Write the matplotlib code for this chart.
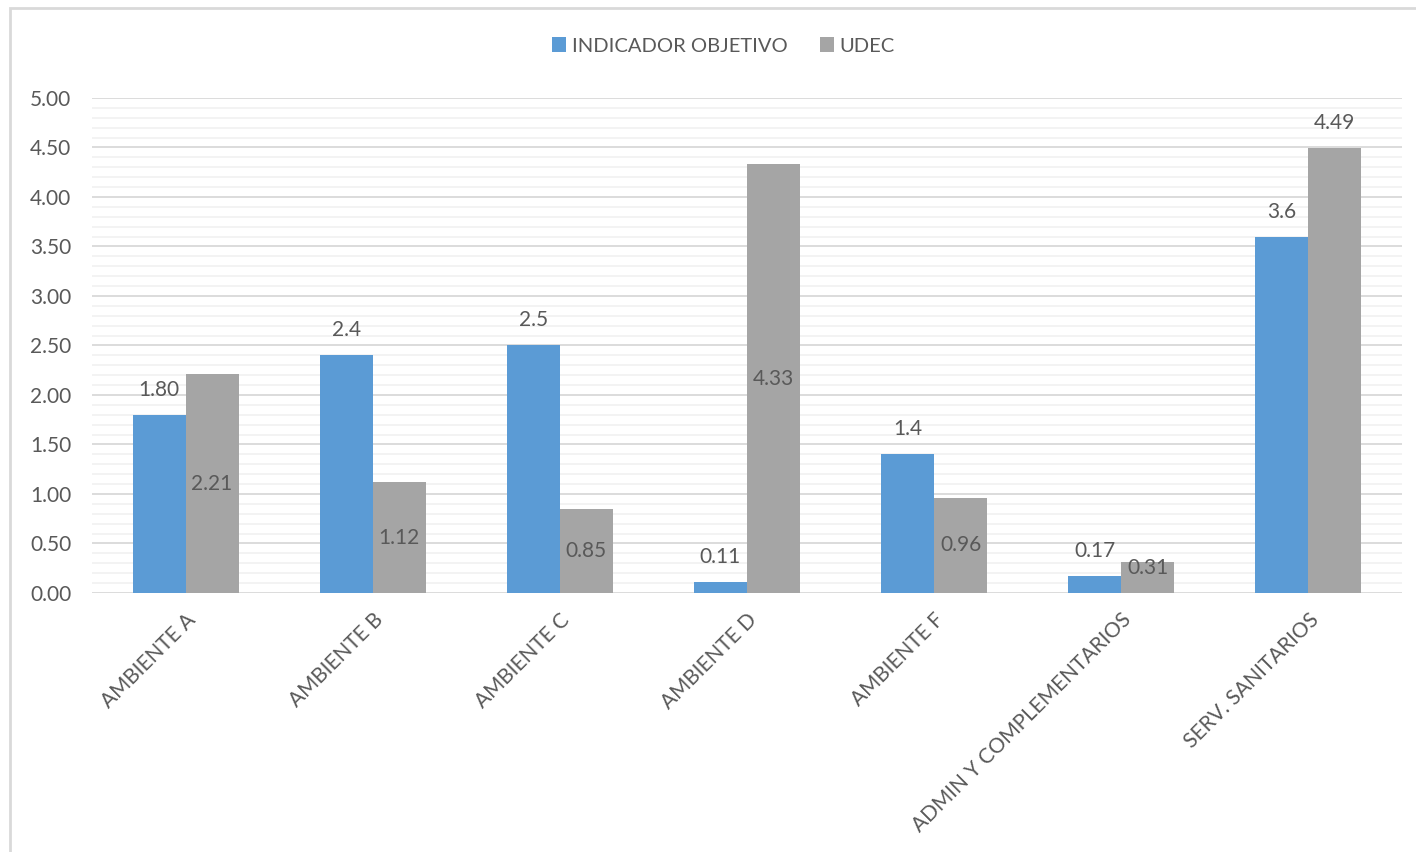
import matplotlib.pyplot as plt
import matplotlib.patches as patches
import numpy as np
from matplotlib.ticker import MultipleLocator

# datos del grafico
categorias = ['AMBIENTE A', 'AMBIENTE B', 'AMBIENTE C', 'AMBIENTE D',
              'AMBIENTE F', 'ADMIN Y COMPLEMENTARIOS', 'SERV. SANITARIOS']
indicador = [1.80, 2.4, 2.5, 0.11, 1.4, 0.17, 3.6]
indicador_txt = ['1.80', '2.4', '2.5', '0.11', '1.4', '0.17', '3.6']
udec = [2.21, 1.12, 0.85, 4.33, 0.96, 0.31, 4.49]
udec_txt = ['2.21', '1.12', '0.85', '4.33', '0.96', '0.31', '4.49']
udec_fuera = [False, False, False, False, False, False, True]

azul = '#5B9BD5'
gris = '#A5A5A5'
texto = '#595959'

plt.rcParams['font.family'] = ['Lato', 'DejaVu Sans']

fig = plt.figure(figsize=(14.16, 8.52), dpi=100)
ax = fig.add_axes([0.065, 0.304, 0.925, 0.581])

# borde del area del grafico
fig.patches.append(patches.Rectangle((10/1416, -0.1), 1.2, 1 - 8/852 + 0.1,
                                     transform=fig.transFigure, fill=False,
                                     edgecolor='#D9D9D9', linewidth=2))

x = np.arange(len(categorias))
w = 0.283
b1 = ax.bar(x - w/2, indicador, w, color=azul, label='INDICADOR OBJETIVO', zorder=3)
b2 = ax.bar(x + w/2, udec, w, color=gris, label='UDEC', zorder=3)

# etiquetas de datos
for i in range(len(x)):
    ax.annotate(indicador_txt[i], (x[i] - w/2, indicador[i]), xytext=(0, 18),
                textcoords='offset points', ha='center', va='center',
                fontsize=15, color=texto, zorder=4)
    if udec_fuera[i]:
        ax.annotate(udec_txt[i], (x[i] + w/2, udec[i]), xytext=(0, 18),
                    textcoords='offset points', ha='center', va='center',
                    fontsize=15, color=texto, zorder=4)
    else:
        ax.text(x[i] + w/2, max(udec[i]/2, 0.25), udec_txt[i], ha='center',
                va='center', fontsize=15, color=texto, zorder=4)

ax.set_xlim(-0.5, 6.5)
ax.set_ylim(0, 5)
ax.yaxis.set_minor_locator(MultipleLocator(0.1))
ax.set_yticks(np.arange(0, 5.01, 0.5))
ax.set_yticklabels(['%.2f' % v for v in np.arange(0, 5.01, 0.5)])
ax.grid(which='major', axis='y', color='#D9D9D9', linewidth=1.3, zorder=0)
ax.grid(which='minor', axis='y', color='#F2F2F2', linewidth=1.3, zorder=0)
ax.tick_params(axis='y', which='both', length=0, labelsize=15, labelcolor=texto, pad=15)
ax.tick_params(axis='x', length=0, pad=12)
for s in ax.spines.values():
    s.set_visible(False)

ax.set_xticks(x)
ax.set_xticklabels(categorias, rotation=45, ha='right', rotation_mode='anchor',
                   fontsize=15, color=texto)

ax.legend(loc='center', bbox_to_anchor=(0.482, 1.105), ncol=2, frameon=False,
          fontsize=14.5, labelcolor=texto, handlelength=0.7, handleheight=0.7,
          handletextpad=0.3, columnspacing=1.6)

fig.savefig('out.png', dpi=100)
